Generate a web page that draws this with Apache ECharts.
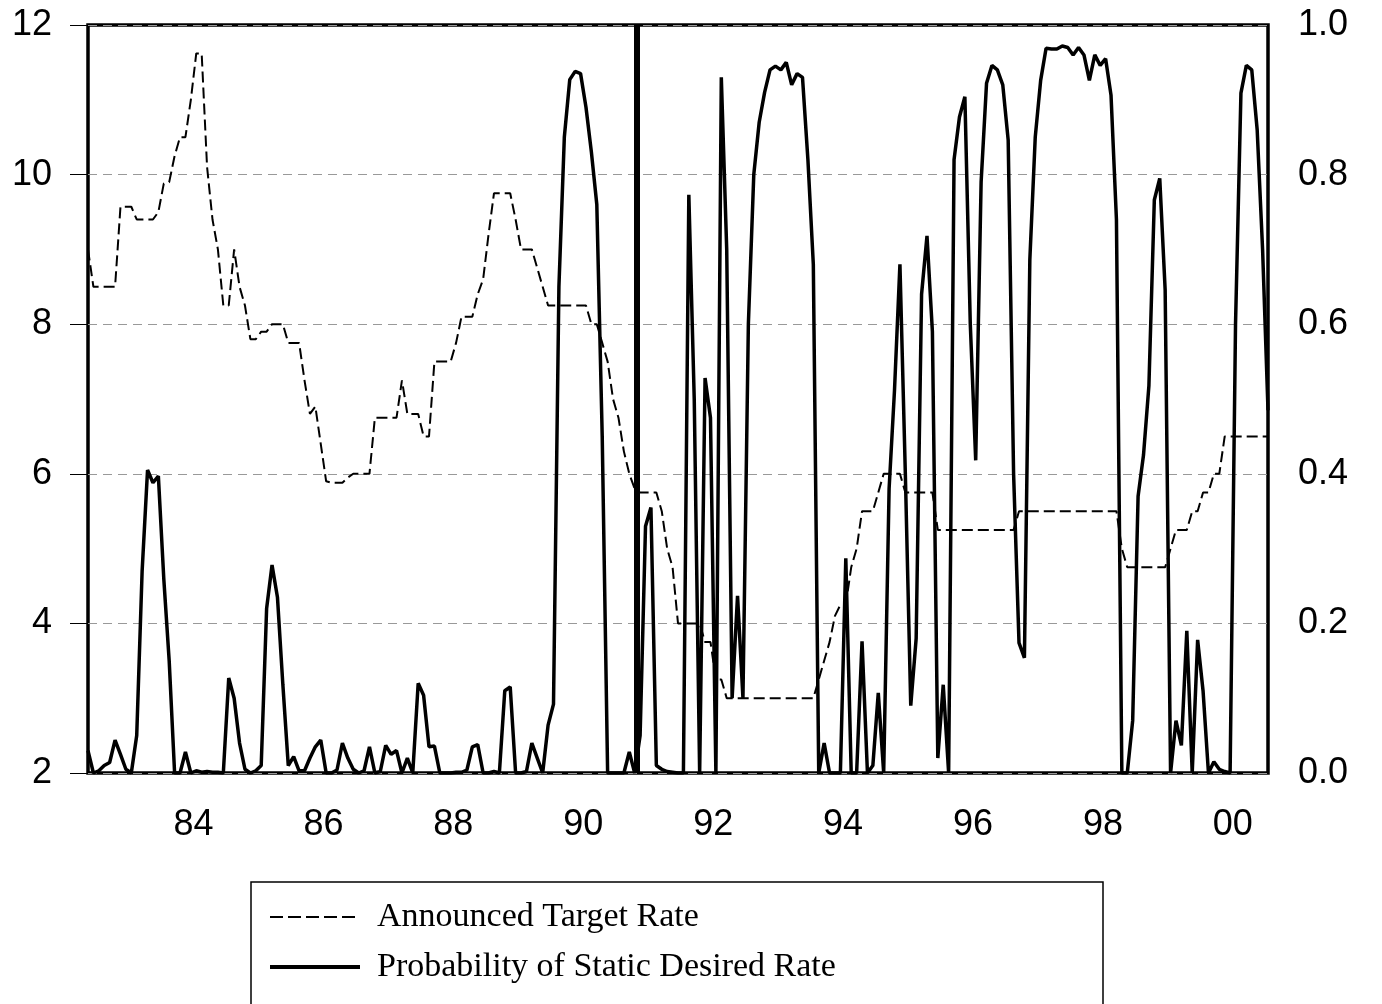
<!DOCTYPE html>
<html>
<head>
<meta charset="utf-8">
<script src="https://cdn.jsdelivr.net/npm/echarts@6.0.0/dist/echarts.min.js"></script>
<style>
  html, body { margin: 0; padding: 0; background: #fff; }
  #chart { width: 1382px; height: 1004px; }
</style>
</head>
<body>
<div id="chart"></div>
<script>
// monthly observations, Nov 1982 .. Jan 2001
const startYear = 1982
const startMonth = 11

// announced fed funds target rate (left axis, %)
const targetRate = [
  9.0, 8.5, 8.5, 8.5, 8.5, 8.5, 9.57, 9.57, 9.57, 9.4, 9.4, 9.4,
  9.4, 9.5, 9.88, 9.9, 10.25, 10.5, 10.5, 11.0, 11.62, 11.62, 10.1, 9.4,
  9.0, 8.25, 8.25, 9.0, 8.5, 8.25, 7.8, 7.8, 7.9, 7.9, 8.0, 8.0,
  8.0, 7.75, 7.75, 7.75, 7.25, 6.8, 6.9, 6.4, 5.9, 5.88, 5.88, 5.88,
  5.95, 6.0, 6.0, 6.0, 6.0, 6.75, 6.75, 6.75, 6.75, 6.75, 7.25, 6.8,
  6.8, 6.8, 6.5, 6.5, 7.5, 7.5, 7.5, 7.5, 7.75, 8.1, 8.1, 8.1,
  8.4, 8.6, 9.2, 9.75, 9.75, 9.75, 9.75, 9.4, 9.0, 9.0, 9.0, 8.75,
  8.5, 8.25, 8.25, 8.25, 8.25, 8.25, 8.25, 8.25, 8.25, 8.0, 8.0, 7.75,
  7.5, 7.0, 6.75, 6.3, 6.0, 5.8, 5.75, 5.75, 5.75, 5.75, 5.5, 5.0,
  4.75, 4.0, 4.0, 4.0, 4.0, 4.0, 3.75, 3.75, 3.25, 3.25, 3.0, 3.0,
  3.0, 3.0, 3.0, 3.0, 3.0, 3.0, 3.0, 3.0, 3.0, 3.0, 3.0, 3.0,
  3.0, 3.0, 3.0, 3.25, 3.5, 3.75, 4.1, 4.25, 4.25, 4.75, 5.0, 5.5,
  5.5, 5.5, 5.75, 6.0, 6.0, 6.0, 6.0, 5.75, 5.75, 5.75, 5.75, 5.75,
  5.75, 5.25, 5.25, 5.25, 5.25, 5.25, 5.25, 5.25, 5.25, 5.25, 5.25, 5.25,
  5.25, 5.25, 5.25, 5.25, 5.5, 5.5, 5.5, 5.5, 5.5, 5.5, 5.5, 5.5,
  5.5, 5.5, 5.5, 5.5, 5.5, 5.5, 5.5, 5.5, 5.5, 5.5, 5.5, 5.0,
  4.75, 4.75, 4.75, 4.75, 4.75, 4.75, 4.75, 4.75, 5.0, 5.25, 5.25, 5.25,
  5.5, 5.5, 5.75, 5.75, 6.0, 6.0, 6.5, 6.5, 6.5, 6.5, 6.5, 6.5,
  6.5, 6.5, 6.5
]

// probability of static desired rate (right axis)
const probStatic = [
  0.03, 0.0, 0.003, 0.01, 0.014, 0.044, 0.025, 0.005, 0.0, 0.05, 0.27, 0.405,
  0.388, 0.397, 0.26, 0.15, 0.0, 0.0, 0.028, 0.0, 0.003, 0.001, 0.002, 0.001,
  0.001, 0.0, 0.127, 0.1, 0.04, 0.005, 0.0, 0.003, 0.01, 0.22, 0.278, 0.235,
  0.118, 0.01, 0.022, 0.003, 0.003, 0.02, 0.035, 0.044, 0.0, 0.0, 0.004, 0.04,
  0.02, 0.005, 0.0, 0.003, 0.035, 0.0, 0.002, 0.037, 0.025, 0.03, 0.0, 0.02,
  0.0, 0.12, 0.104, 0.035, 0.036, 0.0, 0.0, 0.0, 0.001, 0.001, 0.004, 0.035,
  0.038, 0.0, 0.0, 0.002, 0.0, 0.11, 0.115, 0.0, 0.0, 0.002, 0.04, 0.02,
  0.0, 0.064, 0.092, 0.65, 0.85, 0.927, 0.938, 0.935, 0.89, 0.83, 0.76, 0.45,
  0.0, 0.0, 0.0, 0.0, 0.028, 0.0, 0.05, 0.33, 0.355, 0.01, 0.005, 0.002,
  0.001, 0.0, 0.0, 0.773, 0.5, 0.0, 0.528, 0.475, 0.0, 0.93, 0.7, 0.1,
  0.237, 0.1, 0.6, 0.8, 0.87, 0.91, 0.94, 0.945, 0.94, 0.95, 0.92, 0.935,
  0.93, 0.82, 0.68, 0.0, 0.04, 0.0, 0.0, 0.0, 0.287, 0.0, 0.0, 0.176,
  0.0, 0.01, 0.107, 0.0, 0.38, 0.512, 0.68, 0.4, 0.09, 0.18, 0.64, 0.718,
  0.59, 0.02, 0.118, 0.0, 0.82, 0.877, 0.904, 0.6, 0.418, 0.79, 0.922, 0.946,
  0.94, 0.92, 0.846, 0.4, 0.174, 0.154, 0.686, 0.85, 0.926, 0.969, 0.968, 0.968,
  0.972, 0.97, 0.96, 0.97, 0.96, 0.926, 0.96, 0.946, 0.955, 0.906, 0.74, 0.0,
  0.0, 0.07, 0.37, 0.425, 0.518, 0.766, 0.795, 0.646, 0.0, 0.07, 0.037, 0.19,
  0.0, 0.178, 0.11, 0.0, 0.015, 0.005, 0.002, 0.0, 0.6, 0.909, 0.946, 0.94,
  0.86, 0.7, 0.485
]

// year labels sit in the middle of each year
const yearTicks = [1984.5, 1986.5, 1988.5, 1990.5, 1992.5, 1994.5, 1996.5, 1998.5, 2000.5]
const breakDate = 1991.33
const seriesNames = ['Announced Target Rate', 'Probability of Static Desired Rate']

const dates = targetRate.map((_, i) => startYear + (startMonth - 0.5) / 12 + i / 12)
const sans = 'Liberation Sans, Arial, Helvetica, sans-serif'
const serif = 'Liberation Serif, Times New Roman, serif'

const chart = echarts.init(document.getElementById('chart'))
chart.setOption({
  animation: false,
  backgroundColor: '#fff',
  grid: {
    left: 88, right: 114, top: 25, bottom: 231,
    show: true, borderColor: '#000', borderWidth: 3.5, backgroundColor: 'transparent',
    outerBoundsMode: 'none'
  },
  xAxis: {
    type: 'value',
    min: dates[0],
    max: dates[dates.length - 1],
    axisLine: { show: false },
    axisTick: { show: false },
    splitLine: { show: false },
    axisLabel: {
      customValues: yearTicks,
      formatter: v => String(Math.floor(v) % 100).padStart(2, '0'),
      color: '#000', fontFamily: sans, fontSize: 36, margin: 34
    }
  },
  yAxis: [
    {
      type: 'value', min: 2, max: 12, interval: 2, position: 'left',
      axisLine: { show: false },
      axisTick: { show: true, length: 18, lineStyle: { color: '#000', width: 1 } },
      axisLabel: { color: '#000', fontFamily: sans, fontSize: 36, margin: 36 },
      splitLine: { show: true, lineStyle: { color: '#999', width: 1, type: [9, 6] } }
    },
    {
      type: 'value', min: 0, max: 1, interval: 0.2, position: 'right',
      axisLine: { show: false },
      axisTick: { show: false },
      axisLabel: { color: '#000', fontFamily: sans, fontSize: 36, margin: 30, formatter: v => v.toFixed(1) },
      splitLine: { show: false }
    }
  ],
  legend: {
    orient: 'vertical', left: 268, top: 900, padding: 0,
    itemGap: 16, itemWidth: 90, itemHeight: 20,
    itemStyle: { opacity: 0 },
    textStyle: { fontFamily: serif, fontSize: 34, color: '#000', padding: [0, 0, 0, 12] },
    data: [
      { name: seriesNames[0], lineStyle: { color: '#000', width: 2, type: [13, 5] } },
      { name: seriesNames[1], lineStyle: { color: '#000', width: 4, type: 'solid' } }
    ]
  },
  graphic: [{
    type: 'rect', silent: true,
    shape: { x: 251, y: 882, width: 852, height: 140 },
    style: { fill: 'none', stroke: '#000', lineWidth: 1.5 }
  }],
  series: [
    {
      name: seriesNames[0], type: 'line', yAxisIndex: 0,
      data: dates.map((d, i) => [d, targetRate[i]]),
      symbol: 'none', z: 3,
      itemStyle: { color: '#000' },
      lineStyle: { color: '#000', width: 2, type: [11, 5] }
    },
    {
      name: seriesNames[1], type: 'line', yAxisIndex: 1,
      data: dates.map((d, i) => [d, probStatic[i]]),
      symbol: 'none', z: 4,
      itemStyle: { color: '#000' },
      lineStyle: { color: '#000', width: 3.5 },
      markLine: {
        silent: true, symbol: 'none', label: { show: false },
        lineStyle: { color: '#000', width: 6, type: 'solid' },
        data: [{ xAxis: breakDate }]
      }
    }
  ]
})
</script>
</body>
</html>
